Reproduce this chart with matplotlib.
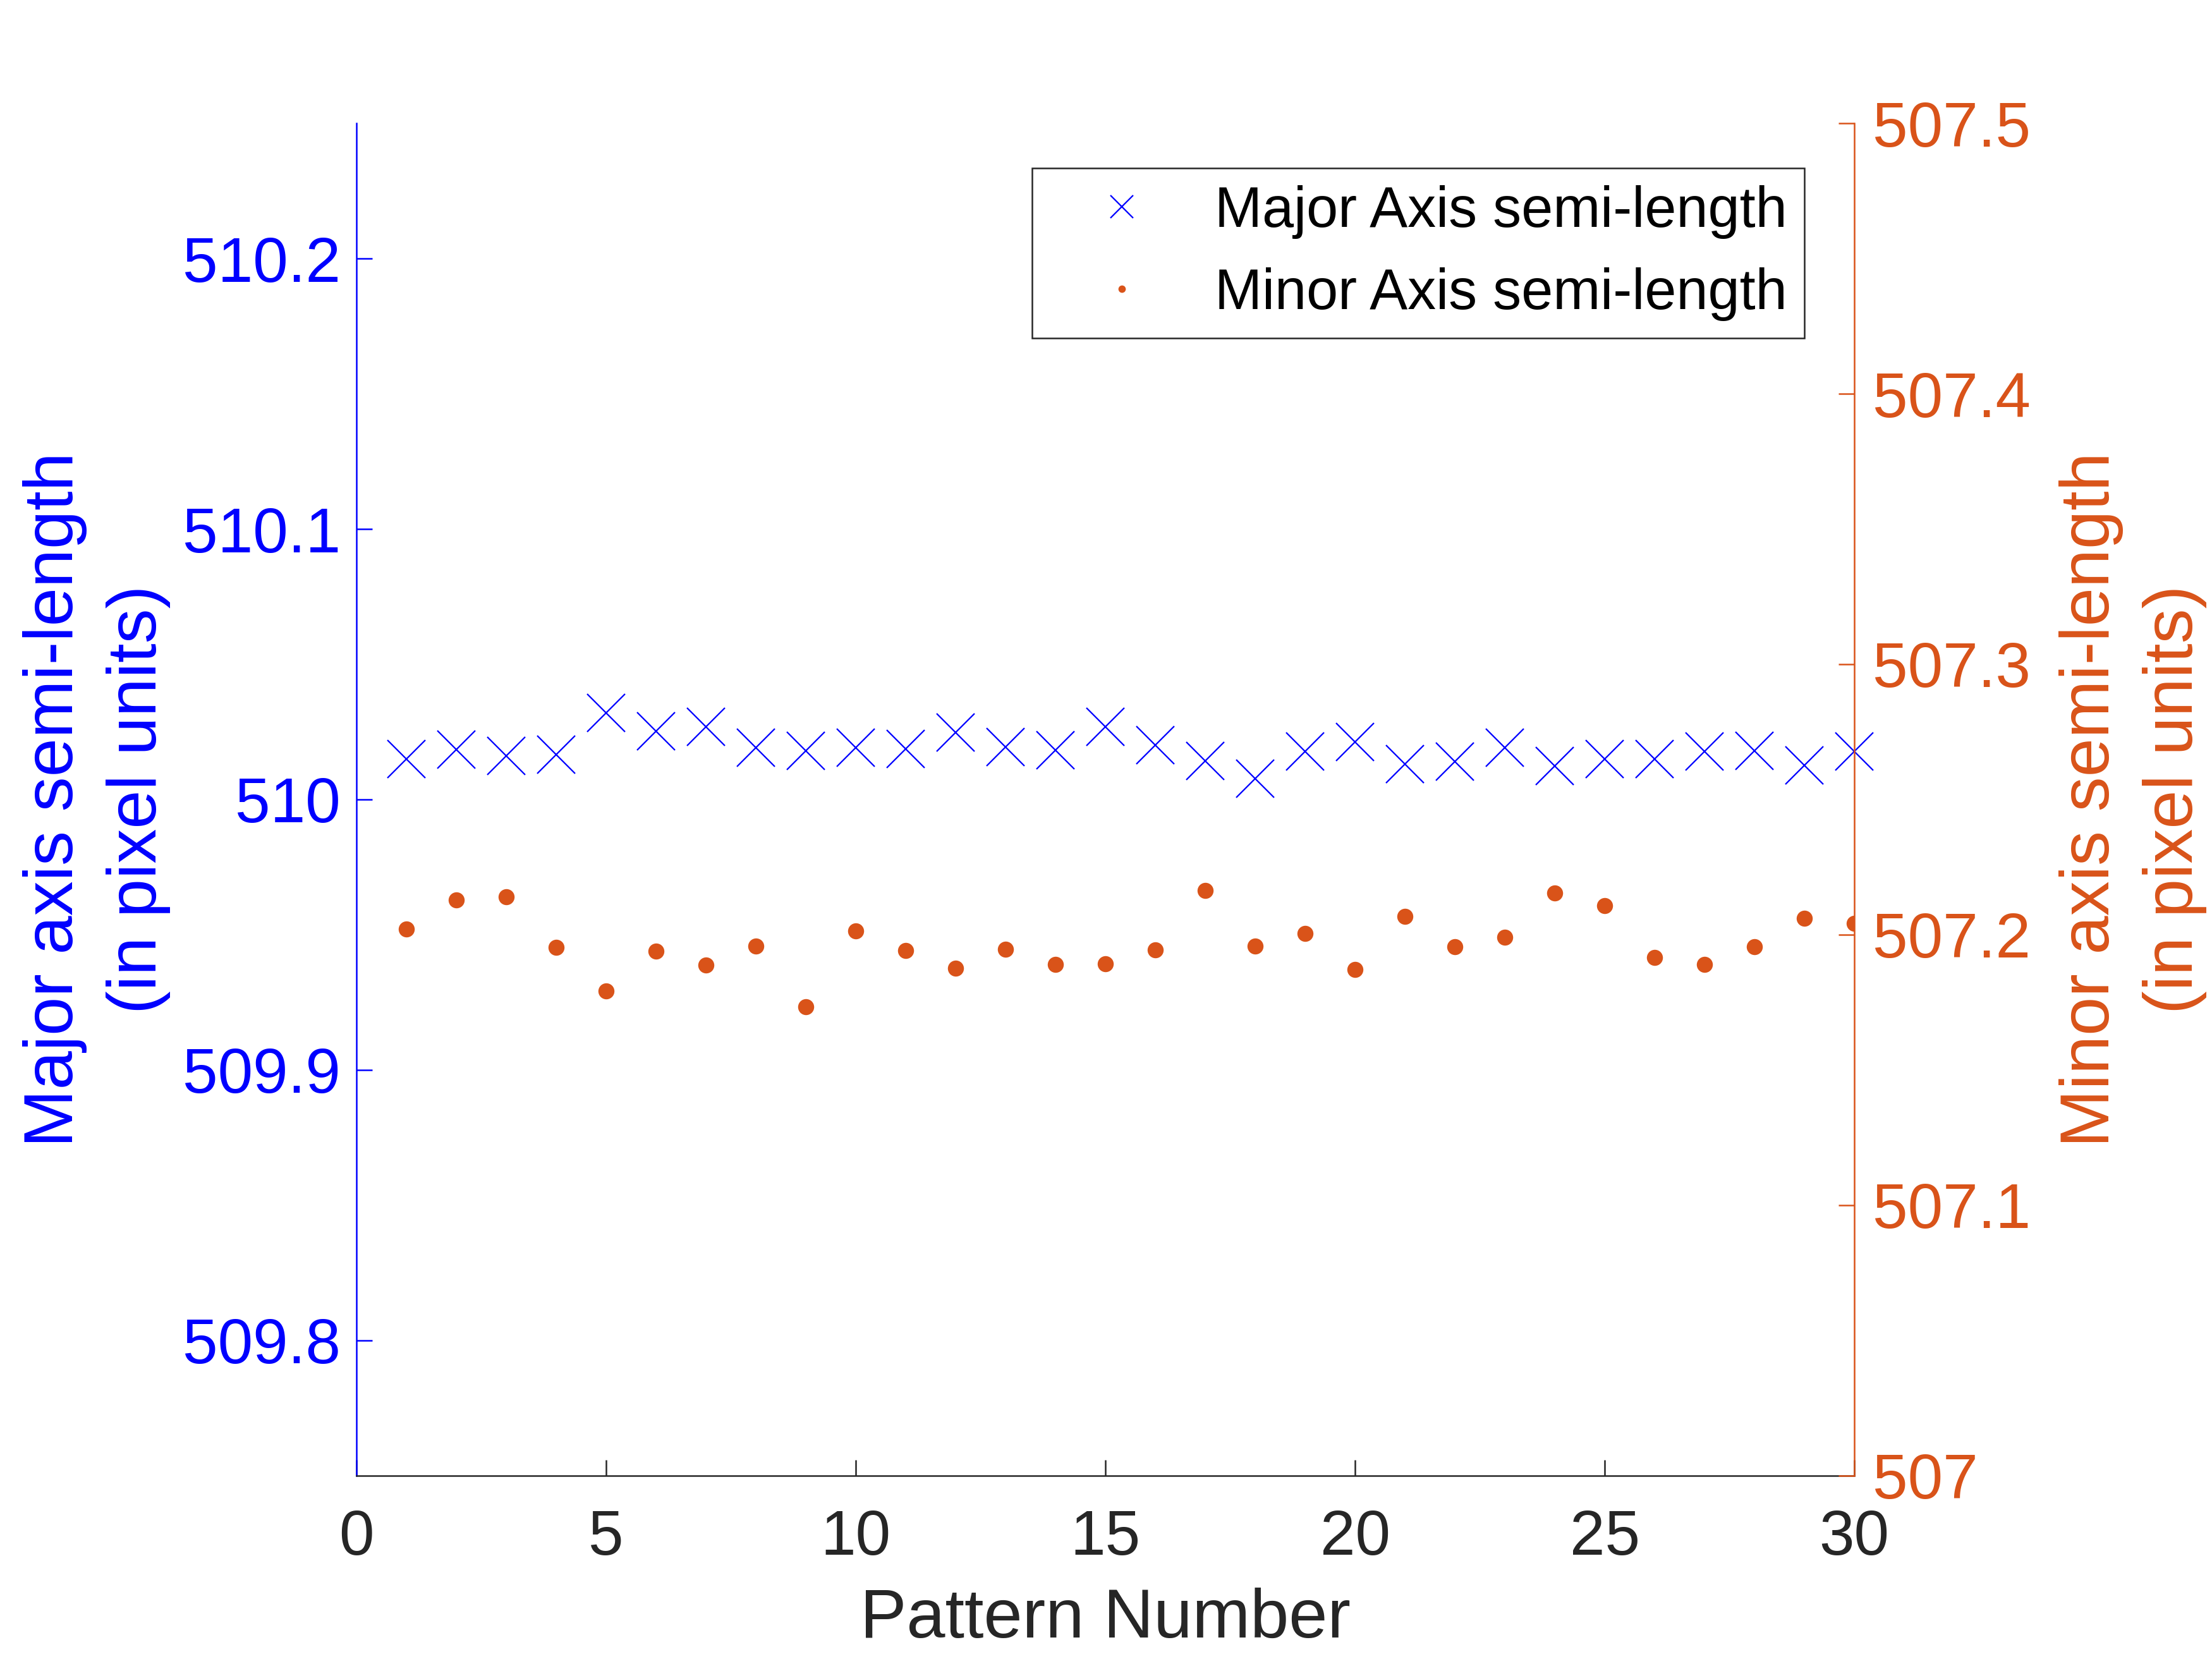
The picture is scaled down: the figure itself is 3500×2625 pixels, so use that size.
import matplotlib
matplotlib.use("Agg")
import matplotlib.pyplot as plt
from matplotlib.lines import Line2D
from matplotlib.ticker import FuncFormatter

plt.rcParams['font.family'] = ['Liberation Sans', 'DejaVu Sans']

# data
pattern = list(range(1, 31))
major_axis = [510.0149, 510.0184, 510.0161, 510.0166, 510.0319, 510.0252, 510.0268,
              510.0192, 510.0180, 510.0192, 510.0186, 510.0247, 510.0195, 510.0182,
              510.0268, 510.0201, 510.0143, 510.0078, 510.0178, 510.0212, 510.0130,
              510.0141, 510.0191, 510.0123, 510.0149, 510.0149, 510.0178, 510.0180,
              510.0126, 510.0178]
minor_axis = [507.2020, 507.2129, 507.2140, 507.1953, 507.1793, 507.1939, 507.1887,
              507.1959, 507.1733, 507.2014, 507.1942, 507.1877, 507.1947, 507.1891,
              507.1892, 507.1945, 507.2163, 507.1957, 507.2004, 507.1871, 507.2068,
              507.1955, 507.1990, 507.2155, 507.2108, 507.1915, 507.1889, 507.1956,
              507.2061, 507.2041]
x_ticks = [0, 5, 10, 15, 20, 25, 30]
left_ticks = [509.8, 509.9, 510.0, 510.1, 510.2]
right_ticks = [507.0, 507.1, 507.2, 507.3, 507.4, 507.5]

BLUE = (0, 0, 1)
ORANGE = (0.85, 0.325, 0.098)
DARK = '#262626'
TICK_FS = 24
LABEL_FS = 26.4
LEG_FS = 21.6

fig = plt.figure(figsize=(3500 / 300, 2625 / 300), dpi=300)
ax1 = fig.add_axes([0.1612, 0.1105, 0.6771, 0.8152])
ax2 = ax1.twinx()

ax1.plot(pattern, major_axis, linestyle='none', marker='x', markersize=14.6,
         markeredgewidth=0.55, color=BLUE, clip_on=False)
ax2.plot(pattern, minor_axis, linestyle='none', marker='o', markersize=6.1,
         markeredgewidth=0, color=ORANGE)

ax1.set_xlim(0, 30)
ax1.set_ylim(509.75, 510.25)
ax2.set_ylim(507.0, 507.5)
ax1.set_xticks(x_ticks)
ax1.set_yticks(left_ticks)
ax2.set_yticks(right_ticks)
fmt = FuncFormatter(lambda v, p: f"{v:g}")
ax1.yaxis.set_major_formatter(fmt)
ax2.yaxis.set_major_formatter(fmt)

for s in ('top', 'right'):
    ax1.spines[s].set_visible(False)
for s in ('top', 'left', 'bottom'):
    ax2.spines[s].set_visible(False)
ax1.spines['left'].set_color(BLUE)
ax1.spines['bottom'].set_color(DARK)
ax2.spines['right'].set_color(ORANGE)
for sp in (ax1.spines['left'], ax1.spines['bottom'], ax2.spines['right']):
    sp.set_linewidth(0.6)

ax1.tick_params(axis='x', direction='in', length=6, width=0.6, colors=DARK,
                labelsize=TICK_FS, pad=12.5)
ax1.tick_params(axis='y', direction='in', length=6, width=0.6, colors=BLUE,
                labelsize=TICK_FS, pad=6)
ax2.tick_params(axis='y', direction='in', length=6, width=0.6, colors=ORANGE,
                labelsize=TICK_FS, pad=7)

ax1.set_xlabel('Pattern Number', fontsize=LABEL_FS, color=DARK, labelpad=7.5)
ax1.set_ylabel('Major axis semi-length\n(in pixel units)', fontsize=LABEL_FS,
               color=BLUE, va='center', linespacing=1.38)
ax1.yaxis.set_label_coords(-0.1736, 0.5)
ax2.set_ylabel('Minor axis semi-length\n(in pixel units)', fontsize=LABEL_FS,
               color=ORANGE, va='center', linespacing=1.38, rotation=90)
ax2.yaxis.set_label_coords(1.186, 0.5)

handles = [
    Line2D([], [], linestyle='none', marker='x', markersize=8.6,
           markeredgewidth=0.55, color=BLUE),
    Line2D([], [], linestyle='none', marker='o', markersize=2.8,
           markeredgewidth=0, color=ORANGE),
]
leg = ax2.legend(handles, ['Major Axis semi-length', 'Minor Axis semi-length'],
                 loc='upper right', bbox_to_anchor=(0.9667, 0.967),
                 borderaxespad=0, fontsize=LEG_FS, fancybox=False,
                 edgecolor=DARK, framealpha=1, borderpad=0.3,
                 handlelength=2.54, handletextpad=0.37, labelspacing=0.5)
leg.get_frame().set_linewidth(0.6)

fig.savefig('out.png', dpi=300)
